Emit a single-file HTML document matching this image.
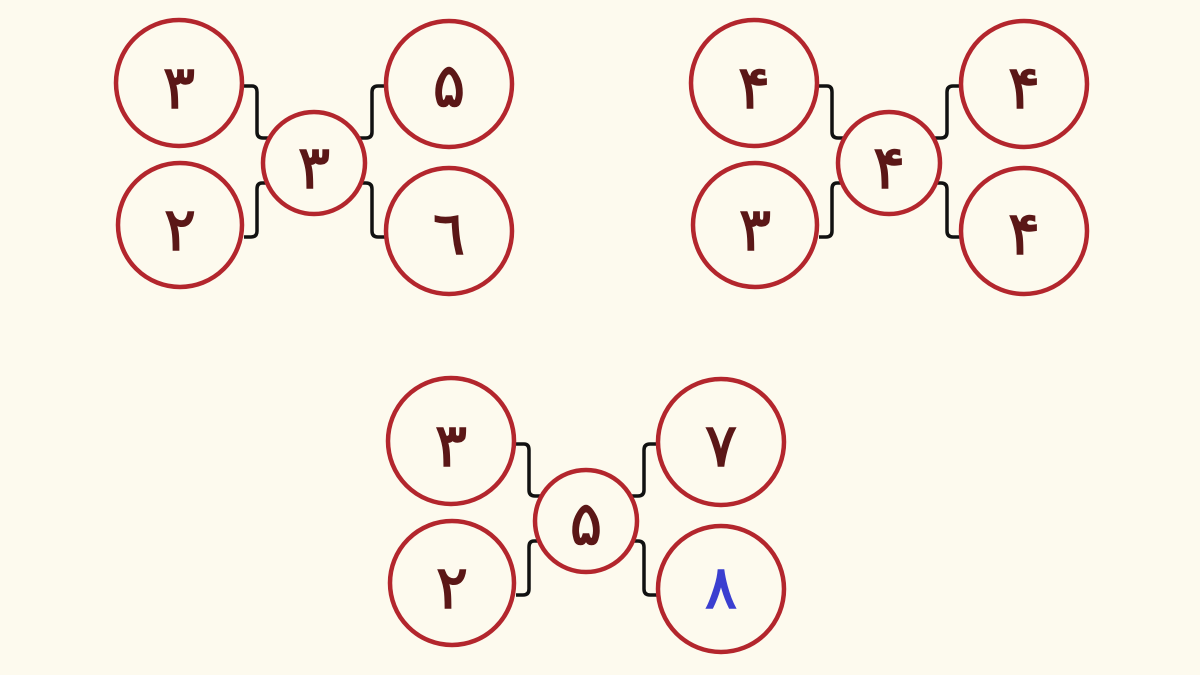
<!DOCTYPE html>
<html><head><meta charset="utf-8"><style>
html,body{margin:0;padding:0;background:#fdfaee;}
svg{display:block}
text{font-family:"DejaVu Sans","Liberation Sans",sans-serif;font-size:60px;font-weight:normal;fill:#5b1717;stroke:#5b1717;stroke-width:1.5;text-anchor:middle;dominant-baseline:central}
.c{fill:none;stroke:#b3262d;stroke-width:4.5}
.l{fill:none;stroke:#111;stroke-width:3.5;stroke-linejoin:round}
</style></head><body>
<svg width="1200" height="675" viewBox="0 0 1200 675">
<rect width="1200" height="675" fill="#fdfaee"/>
<defs>
<g id="frame">
<path class="l" d="M243 86 H252 Q257 86 257 92 V132 Q257 138 263 138 H268"/>
<path class="l" d="M266 183 H262 Q257 183 257 189 V231 Q257 237 251 237 H244"/>
<path class="l" d="M385 86 H378 Q372 86 372 92 V132 Q372 138 366 138 H360"/>
<path class="l" d="M361 183 H366 Q372 183 372 189 V231 Q372 237 378 237 H385"/>
<circle class="c" cx="179" cy="83" r="63"/>
<circle class="c" cx="180" cy="225" r="62"/>
<circle class="c" cx="314" cy="163" r="51"/>
<circle class="c" cx="449" cy="84" r="63"/>
<circle class="c" cx="449" cy="231" r="63"/>
</g>
</defs>
<g>
<use href="#frame"/>
<text x="179" y="88">۳</text><text x="180" y="230">۲</text><text x="314" y="168">۳</text><text x="449" y="86">۵</text><text x="449" y="234">٦</text>
</g>
<g transform="translate(575,0)">
<use href="#frame"/>
<text x="179" y="88">۴</text><text x="180" y="230">۳</text><text x="314" y="168">۴</text><text x="449" y="88">۴</text><text x="449" y="234">۴</text>
</g>
<g transform="translate(272,358)">
<use href="#frame"/>
<text x="179" y="88">۳</text><text x="180" y="230">۲</text><text x="314" y="166">۵</text><text x="449" y="88">۷</text><text x="449" y="230" style="fill:#3b3fd0;stroke:#3b3fd0">۸</text>
</g>
</svg>
</body></html>
